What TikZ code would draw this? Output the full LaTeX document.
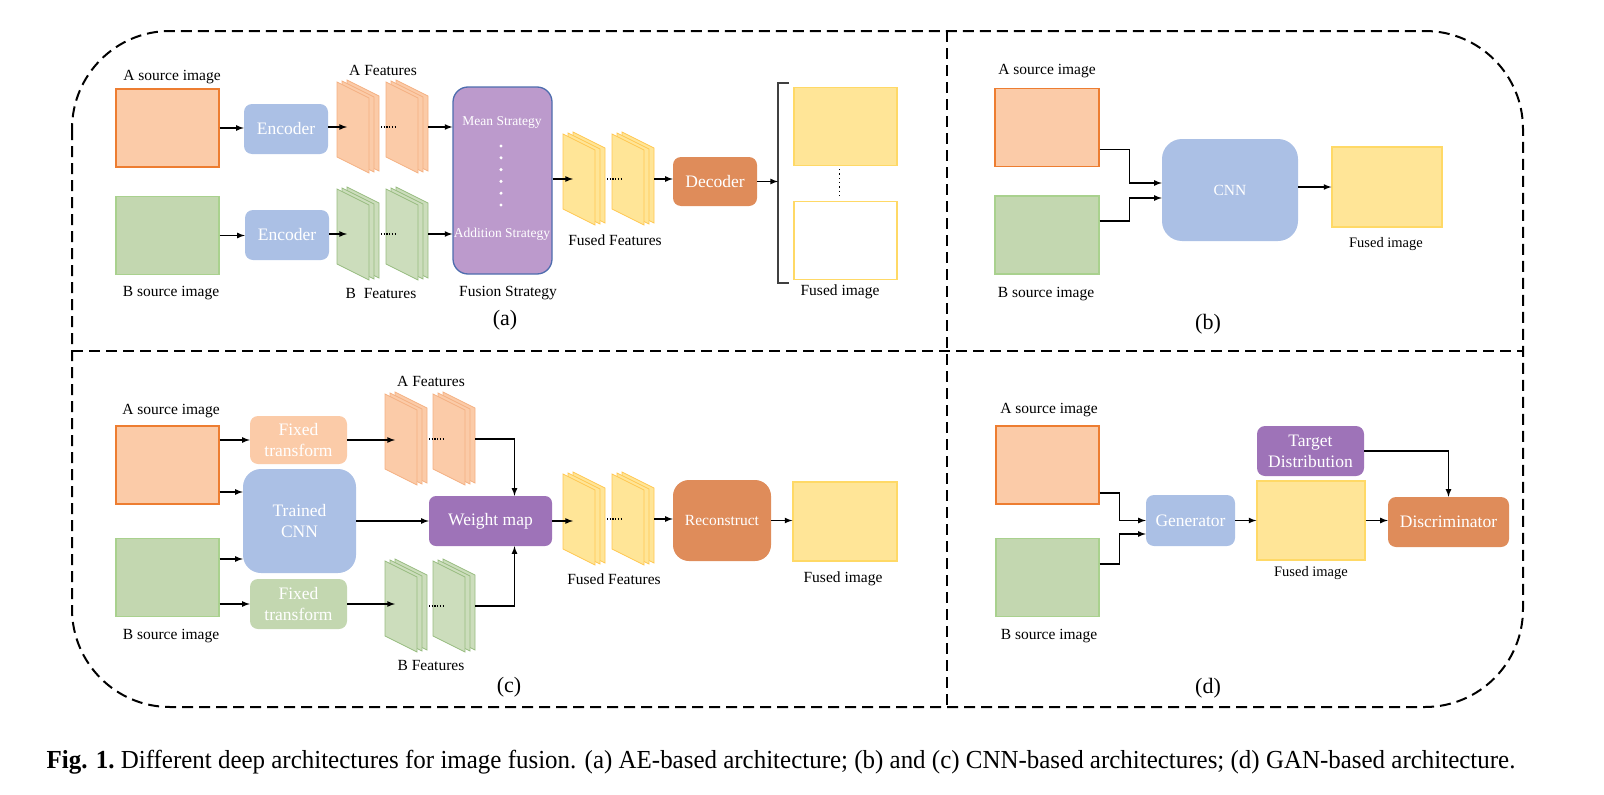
\documentclass[tikz,border=0pt]{standalone}
\usepackage{fontspec}
\setmainfont{Liberation Serif}
\usetikzlibrary{calc}

\definecolor{peach}{HTML}{FBCBA8}
\definecolor{peachline}{HTML}{ED7D31}
\definecolor{sage}{HTML}{C3D7B0}
\definecolor{sageline}{HTML}{A9D18E}
\definecolor{butter}{HTML}{FFE597}
\definecolor{butterline}{HTML}{FFD966}
\definecolor{sky}{HTML}{ABC0E5}
\definecolor{lilac}{HTML}{BC9ACC}
\definecolor{lilacline}{HTML}{4E6DAE}
\definecolor{plum}{HTML}{9E73B8}
\definecolor{rust}{HTML}{DF8C5A}

\tikzset{
	frame/.style={line width=2pt, dash pattern=on 11pt off 6pt},
	lbl/.style={font=\fontsize{15.5}{18}\selectfont, inner sep=0pt},
	tag/.style={font=\fontsize{22}{26}\selectfont, inner sep=0pt},
	imgA/.style={draw=peachline, fill=peach, line width=1.3pt, minimum width=103pt, minimum height=78pt, inner sep=0pt},
	imgB/.style={imgA, draw=sageline, fill=sage},
	imgF/.style={imgA, draw=butterline, fill=butter},
	blk/.style={rounded corners=8pt, inner sep=0pt, text=white, align=center, font=\fontsize{17.5}{21}\selectfont},
	sheetA/.style={fill=peach, draw=peachline!60!white, line width=0.8pt},
	sheetB/.style={fill=sage!85!white, draw=sageline!90!black, line width=0.8pt},
	sheetF/.style={fill=butter, draw=butterline!80!orange, line width=0.8pt},
	conn/.style={->, line width=1.6pt},
	fdots/.style={line width=1.3pt, dash pattern=on 1.3pt off 1.4pt},
	brk/.style={line width=2pt, draw=black!75}
}

% stack of three feature maps: name, left x, top y, sheet style
\newcommand{\fmaps}[4]{%
	\foreach \off in {10,5,0}
		\draw[#4] ({#2+\off},{#3+2-\off/5}) -- ++(32,16) -- ++(0,75) -- ++(-32,-16) -- cycle;
	\coordinate (#1-in) at ({#2+10},{#3+47});
	\coordinate (#1-out) at ({#2+42},{#3+47});
}

\begin{document}
\begin{tikzpicture}[x=1pt,y=-1pt,>=latex]
	\useasboundingbox (0,0) rectangle (1604,795);

	% outer frame and dividers
	\draw[frame, rounded corners=98pt] (72,31) rectangle (1523,707);
	\draw[frame] (947,31) -- (947,707);
	\draw[frame] (72,351) -- (1523,351);

	% (a) AE-based
	\node[imgA] (aimgA) at (167.5,128) {};
	\node[imgB] (aimgB) at (167.5,235.5) {};
	\node[lbl] (aimgAl) at (172,77) {A source image};
	\node[lbl] (aimgBl) at (171,293) {B source image};

	\node[blk, fill=sky, minimum width=84pt, minimum height=50pt] (aencA) at (286,129) {Encoder};
	\node[blk, fill=sky, minimum width=84pt, minimum height=50pt] (aencB) at (287,235) {Encoder};

	\fmaps{aA1}{337}{80}{sheetA}
	\fmaps{aA2}{386}{80}{sheetA}
	\fmaps{aB1}{337}{187}{sheetB}
	\fmaps{aB2}{386}{187}{sheetB}
	\node[lbl] (aAl) at (383,70) {A Features};
	\node[lbl] (aBl) at (381,293) {B\enspace Features};

	\node[blk, rounded corners=15pt, fill=lilac, draw=lilacline, line width=1.3pt,
		minimum width=99pt, minimum height=187pt] (afuse) at (502.5,180.5) {};
	\node[lbl, text=white, font=\fontsize{13.5}{16}\selectfont] (amean) at (502,122) {Mean Strategy};
	\node[lbl, text=white, font=\fontsize{13.5}{16}\selectfont] (aadd) at (502,234) {Addition Strategy};
	\foreach \k in {0,...,5}
		\fill[white] (501,{146+11.8*\k}) circle (1.7pt);
	\node[lbl] (afusel) at (508,293) {Fusion Strategy};

	\fmaps{aF1}{563}{132}{sheetF}
	\fmaps{aF2}{612}{132}{sheetF}
	\node[lbl] (aFl) at (615,240) {Fused Features};

	\node[blk, fill=rust, minimum width=84pt, minimum height=49pt] (adec) at (715,181.5) {Decoder};

	\coordinate (abrk) at (778,183);
	\draw[brk] (789,83) -- (778,83) -- (778,283) -- (789,283);
	\node[imgF] (aout1) at (845.5,126.5) {};
	\node[imgF, fill=white] (aout2) at (845.5,240.5) {};
	\draw[line width=1.3pt, dash pattern=on 1.3pt off 3pt] ([xshift=-6pt,yshift=-3pt]aout1.south) -- ([xshift=-6pt,yshift=3pt]aout2.north);
	\node[lbl] (aoutl) at (840,292) {Fused image};
	\node[tag] (atag) at (505,320) {(a)};

	\draw[conn] (aimgA.east) -- (aimgA.east -| aencA.west);
	\draw[conn] (aimgB.east) -- (aimgB.east -| aencB.west);
	\draw[conn] (aencA.east |- aA1-in) -- (aA1-in);
	\draw[conn] (aencB.east |- aB1-in) -- (aB1-in);
	\draw[fdots] ([xshift=2pt]aA1-out) -- ++(15,0);
	\draw[fdots] ([xshift=2pt]aB1-out) -- ++(15,0);
	\draw[conn] (aA2-out) -- (aA2-out -| afuse.west);
	\draw[conn] (aB2-out) -- (aB2-out -| afuse.west);
	\draw[conn] (afuse.east |- aF1-in) -- (aF1-in);
	\draw[fdots] ([xshift=2pt]aF1-out) -- ++(15,0);
	\draw[conn] (aF2-out) -- (aF2-out -| adec.west);
	\draw[conn] (adec.east) -- (adec.east -| abrk);

	% (b) CNN-based
	\node[imgA, minimum width=104pt] (bimgA) at (1047,127.5) {};
	\node[imgB, minimum width=104pt] (bimgB) at (1047,235) {};
	\node[lbl] (bimgAl) at (1047,71) {A source image};
	\node[lbl] (bimgBl) at (1046,294) {B source image};
	\node[blk, rounded corners=20pt, fill=sky, font=\fontsize{15.5}{18}\selectfont,
		minimum width=136pt, minimum height=102pt] (bcnn) at (1230,190) {CNN};
	\node[imgF, minimum width=110pt, minimum height=80pt] (bout) at (1387,187) {};
	\node[lbl, font=\fontsize{14.5}{17}\selectfont] (boutl) at (1386,244) {Fused image};
	\node[tag] (btag) at (1208,324) {(b)};

	\draw[conn] ([yshift=-22pt]bimgA.east) -- ++(30,0) |- ([yshift=7pt]bcnn.west);
	\draw[conn] ([yshift=14pt]bimgB.east) -- ++(30,0) |- ([yshift=-8pt]bcnn.west);
	\draw[conn] (bcnn.east |- bout) -- (bout.west);

	% (c) CNN-based with fixed transforms
	\node[imgA] (cimgA) at (167.5,465) {};
	\node[imgB] (cimgB) at (167.5,577.5) {};
	\node[lbl] (cimgAl) at (171,411) {A source image};
	\node[lbl] (cimgBl) at (171,636) {B source image};

	\node[blk, fill=peach, minimum width=97pt, minimum height=48pt] (cfixA) at (298.5,440) {Fixed\\transform};
	\node[blk, rounded corners=18pt, fill=sky, minimum width=113pt, minimum height=104pt] (ccnn) at (299.5,521) {Trained\\CNN};
	\node[blk, fill=sage, minimum width=97pt, minimum height=50pt] (cfixB) at (298.5,604) {Fixed\\transform};

	\fmaps{cA1}{385}{392}{sheetA}
	\fmaps{cA2}{433}{392}{sheetA}
	\fmaps{cB1}{385}{559}{sheetB}
	\fmaps{cB2}{433}{559}{sheetB}
	\node[lbl] (cAl) at (431,381) {A Features};
	\node[lbl] (cBl) at (431,665) {B Features};

	\node[blk, rounded corners=7pt, fill=plum, minimum width=123pt, minimum height=50pt] (cwm) at (490.5,521) {Weight map};

	\fmaps{cF1}{563}{472}{sheetF}
	\fmaps{cF2}{612}{472}{sheetF}
	\node[lbl] (cFl) at (614,579) {Fused Features};

	\node[blk, rounded corners=16pt, fill=rust, font=\fontsize{15.5}{18}\selectfont,
		minimum width=98pt, minimum height=81pt] (crec) at (722,520.5) {Reconstruct};
	\node[imgF, minimum width=104pt, minimum height=79pt] (cout) at (845,521.5) {};
	\node[lbl] (coutl) at (843,579) {Fused image};
	\node[tag] (ctag) at (509,687) {(c)};

	\draw[conn] (cimgA.east |- cfixA.west) -- (cfixA.west);
	\draw[conn] ([yshift=-27pt]cimgA.east) -- ([yshift=-27pt]cimgA.east -| ccnn.west);
	\draw[conn] ([yshift=18.5pt]cimgB.east) -- ([yshift=18.5pt]cimgB.east -| ccnn.west);
	\draw[conn] (cimgB.east |- cfixB.west) -- (cfixB.west);
	\draw[conn] (cfixA.east) -- (cfixA.east -| cA1-in);
	\draw[conn] (cfixB.east) -- (cfixB.east -| cB1-in);
	\draw[fdots] ([xshift=2pt]cA1-out) -- ++(15,0);
	\draw[fdots] ([xshift=2pt]cB1-out) -- ++(15,0);
	\draw[conn] (cA2-out) -| ([xshift=24pt]cwm.north);
	\draw[conn] (cB2-out) -| ([xshift=24pt]cwm.south);
	\draw[conn] (ccnn.east) -- (cwm.west);
	\draw[conn] (cwm.east) -- (cwm.east -| cF1-in);
	\draw[fdots] ([xshift=2pt]cF1-out) -- ++(15,0);
	\draw[conn] (cF2-out) -- (cF2-out -| crec.west);
	\draw[conn] (crec.east) -- (crec.east -| cout.west);

	% (d) GAN-based
	\node[imgA] (dimgA) at (1047.5,465) {};
	\node[imgB] (dimgB) at (1047.5,577.5) {};
	\node[lbl] (dimgAl) at (1049,410) {A source image};
	\node[lbl] (dimgBl) at (1049,636) {B source image};
	\node[blk, fill=sky, minimum width=89pt, minimum height=51pt] (dgen) at (1190.5,520.5) {Generator};
	\node[imgF, minimum width=108pt, minimum height=79pt] (dout) at (1311,520.5) {};
	\node[lbl, font=\fontsize{14.5}{17}\selectfont] (doutl) at (1311,573) {Fused image};
	\node[blk, fill=plum, minimum width=107pt, minimum height=50pt] (dtar) at (1310.5,451) {Target\\Distribution};
	\node[blk, fill=rust, minimum width=121pt, minimum height=50pt] (ddis) at (1448.5,522) {Discriminator};
	\node[tag] (dtag) at (1208,688) {(d)};

	\draw[conn] ([yshift=-28pt]dimgA.east) -- ++(20,0) |- (dgen.west);
	\draw[conn] ([yshift=13.5pt]dimgB.east) -- ++(20,0) |- ([yshift=-13.5pt]dgen.west);
	\draw[conn] (dgen.east) -- (dout.west);
	\draw[conn] (dtar.east) -| (ddis.north);
	\draw[conn] (dout.east) -- (dout.east -| ddis.west);

	% caption
	\node[font=\fontsize{26}{30}\selectfont, inner sep=0pt] (caption) at (781,762)
		{\scalebox{0.96}[1]{\textbf{Fig. 1.}\ Different deep architectures for image fusion. (a) AE-based architecture; (b) and (c) CNN-based architectures; (d) GAN-based architecture.}};
\end{tikzpicture}
\end{document}
